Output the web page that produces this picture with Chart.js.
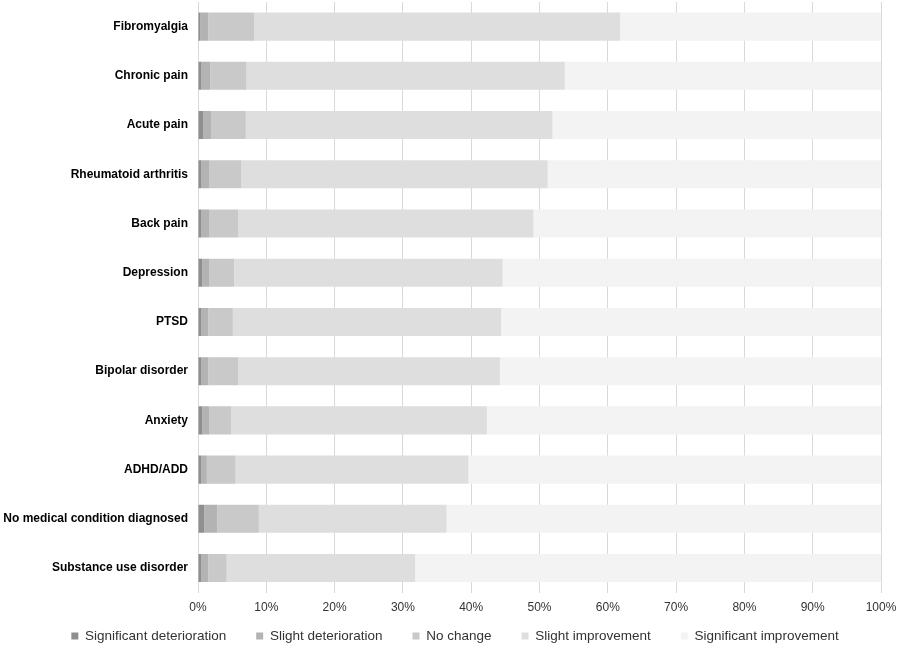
<!DOCTYPE html>
<html>
<head>
<meta charset="utf-8">
<script src="https://cdn.jsdelivr.net/npm/chart.js@4.4.0/dist/chart.umd.min.js"></script>
<style>
  html, body { margin: 0; padding: 0; background: #fff; }
  #wrap { width: 900px; height: 647px; position: relative; }
</style>
</head>
<body>
<div id="wrap"><canvas id="chart"></canvas></div>
<script>
const conditions = [
  "Fibromyalgia", "Chronic pain", "Acute pain", "Rheumatoid arthritis", "Back pain",
  "Depression", "PTSD", "Bipolar disorder", "Anxiety", "ADHD/ADD",
  "No medical condition diagnosed", "Substance use disorder"
];

const significantDeterioration = [0.3, 0.5, 0.8, 0.5, 0.5, 0.6, 0.5, 0.5, 0.6, 0.5, 0.9, 0.5];
const slightDeterioration = [1.2, 1.3, 1.1, 1.2, 1.2, 1.1, 1.0, 1.0, 1.1, 0.8, 1.9, 1.0];
const noChange = [6.7, 5.3, 5.1, 4.6, 4.2, 3.6, 3.6, 4.4, 3.2, 4.2, 6.1, 2.7];
const slightImprovement = [53.6, 46.6, 44.9, 44.9, 43.2, 39.3, 39.3, 38.3, 37.4, 34.1, 27.5, 27.6];
const significantImprovement = [38.2, 46.3, 48.1, 48.8, 50.9, 55.4, 55.6, 55.8, 57.7, 60.4, 63.6, 68.2];

const xTicks = [0, 10, 20, 30, 40, 50, 60, 70, 80, 90, 100];

const series = [
  { label: "Significant deterioration", data: significantDeterioration, color: "#8f8f8f" },
  { label: "Slight deterioration", data: slightDeterioration, color: "#b3b3b3" },
  { label: "No change", data: noChange, color: "#c9c9c9" },
  { label: "Slight improvement", data: slightImprovement, color: "#dedede" },
  { label: "Significant improvement", data: significantImprovement, color: "#f3f3f3" }
];

Chart.defaults.font.family = "'Liberation Sans', Arial, sans-serif";
Chart.defaults.color = "#333";

new Chart(document.querySelector("#chart"), {
  type: "bar",
  data: {
    labels: conditions,
    datasets: series.map((s) => ({
      label: s.label,
      data: s.data,
      backgroundColor: s.color,
      borderWidth: 0,
      barPercentage: 0.57,
      categoryPercentage: 1
    }))
  },
  options: {
    indexAxis: "y",
    responsive: true,
    maintainAspectRatio: false,
    animation: false,
    // negative right padding centres the legend like the original; x axis padding keeps the plot edge at 881
    layout: { padding: { left: 0, right: -10, top: 2, bottom: -5.75 } },
    plugins: {
      tooltip: { enabled: false },
      legend: {
        position: "bottom",
        labels: {
          boxWidth: 7,
          boxHeight: 7,
          padding: 30,
          color: "#333",
          font: { size: 13.5 }
        }
      }
    },
    scales: {
      x: {
        stacked: true,
        min: 0,
        max: 100,
        afterBuildTicks: (axis) => { axis.ticks = xTicks.map((v) => ({ value: v })); },
        afterFit: (axis) => {
          // thin axis box so the legend sits close; labels are drawn unclipped below it
          axis.height = 6.6;
          axis.paddingLeft = 0;
          axis.paddingRight = 19;
          axis._computeLabelArea = () => undefined;
        },
        ticks: {
          callback: (v) => v + "%",
          padding: 8,
          color: "#333",
          font: { size: 12 }
        },
        grid: { color: "#d9d9d9", drawTicks: false },
        border: { display: false }
      },
      y: {
        stacked: true,
        afterFit: (axis) => {
          axis.width = 198;
          axis.paddingTop = 0;
          axis.paddingBottom = 0;
        },
        ticks: {
          padding: 10,
          color: "#000",
          font: { size: 12, weight: "bold" }
        },
        grid: { display: false, drawTicks: false },
        border: { color: "#d9d9d9" }
      }
    }
  }
});
</script>
</body>
</html>
